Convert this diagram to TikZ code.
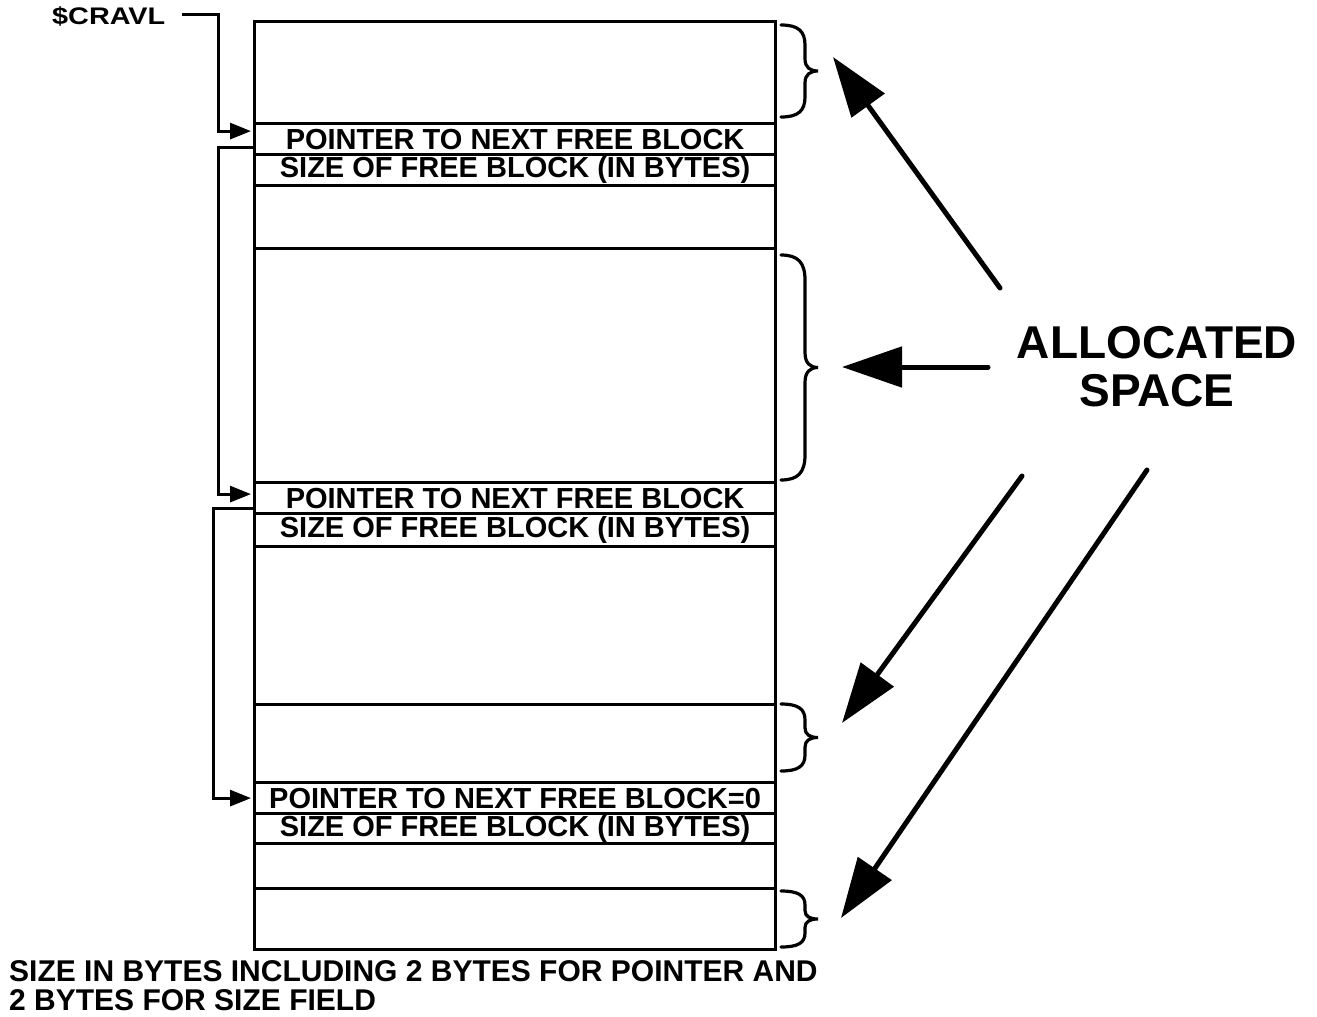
\documentclass[tikz,border=0pt]{standalone}
\usepackage{fontspec}
\setmainfont{Liberation Sans}
\usetikzlibrary{arrows.meta,calc}
\newcommand\membrace[3]{%
 \draw[brc] (781,#1) .. controls (798,#1) and (805,{#1+0.3*#3}) .. (805,{#1+#3})
  -- (805,{(#1+#2)/2-0.6*#3})
  .. controls (805,{(#1+#2)/2-0.18*#3}) and (810,{(#1+#2)/2}) .. (818,{(#1+#2)/2})
  .. controls (810,{(#1+#2)/2}) and (805,{(#1+#2)/2+0.18*#3}) .. (805,{(#1+#2)/2+0.6*#3})
  -- (805,{#2-#3})
  .. controls (805,{#2-0.3*#3}) and (798,#2) .. (781,#2);}
\begin{document}
\begin{tikzpicture}[x=1pt,y=-1pt,
 cell/.style={draw, line width=3.2pt, minimum width=521pt, inner sep=0pt, anchor=north west,
   font=\fontsize{29}{33}\selectfont\bfseries},
 ptr/.style={line width=3pt, -{Triangle[length=21pt,width=16pt]}},
 big/.style={line width=5pt, line cap=round, -{Triangle[length=60pt,width=40pt]}},
 brc/.style={line width=3.2pt, line cap=round},
]
\useasboundingbox (0,0) rectangle (1317,1017);

% memory column
\node[cell, minimum height=102pt] (a1) at (253,20) {};
\node[cell, minimum height=31pt] (p1) at (253,122) {POINTER TO NEXT FREE BLOCK};
\node[cell, minimum height=31pt] (s1) at (253,153) {SIZE OF FREE BLOCK (IN BYTES)};
\node[cell, minimum height=63pt] (f1) at (253,184) {};
\node[cell, minimum height=234pt] (a2) at (253,247) {};
\node[cell, minimum height=31pt] (p2) at (253,481) {POINTER TO NEXT FREE BLOCK};
\node[cell, minimum height=33pt] (s2) at (253,512) {SIZE OF FREE BLOCK (IN BYTES)};
\node[cell, minimum height=158pt] (f2) at (253,545) {};
\node[cell, minimum height=78pt] (a3) at (253,703) {};
\node[cell, minimum height=31pt] (p3) at (253,781) {POINTER TO NEXT FREE BLOCK=0};
\node[cell, minimum height=30pt] (s3) at (253,812) {SIZE OF FREE BLOCK (IN BYTES)};
\node[cell, minimum height=45pt] (f3) at (253,842) {};
\node[cell, minimum height=61pt] (a4) at (253,887) {};

% labels
\node[font=\fontsize{24}{26}\selectfont\bfseries, anchor=west, inner sep=0pt] (cravl) at (52,16) {\scalebox{1.2}[1]{\$CRAVL}};
\node[font=\fontsize{46}{48}\selectfont\bfseries, align=center, inner sep=0pt] (alloc) at (1157,367) {ALLOCATED\\SPACE};
\node[font=\fontsize{30}{29}\selectfont\bfseries, align=left, anchor=north west, inner sep=0pt] (note) at (9,960)
  {SIZE IN BYTES INCLUDING 2 BYTES FOR POINTER AND\\2 BYTES FOR SIZE FIELD};

% free list pointers
\coordinate (c0) at (182,14);
\draw[ptr] (c0) -| ($(p1.west)+(-35,-8)$) -- ($(p1.west)+(-2,-8)$);
\draw[ptr] ($(p1.west)+(0,8)$) -- ($(p1.west)+(-35,8)$) |- ($(p2.west)+(-2,-4)$);
\draw[ptr] ($(p2.west)+(0,10)$) -- ($(p2.west)+(-40,10)$) |- ($(p3.west)+(-2,0)$);

% braces
\membrace{25}{117}{20}
\membrace{255}{480}{25}
\membrace{704}{771}{16}
\membrace{891}{947}{14}

% allocated space arrows
\coordinate (t1) at (1000,288); \coordinate (h1) at (833,57);
\coordinate (t2) at (988,367);  \coordinate (h2) at (842,367);
\coordinate (t3) at (1022,476); \coordinate (h3) at (842,723);
\coordinate (t4) at (1147,470); \coordinate (h4) at (841,918);
\draw[big] (t1) -- (h1);
\draw[big] (t2) -- (h2);
\draw[big] (t3) -- (h3);
\draw[big] (t4) -- (h4);
\end{tikzpicture}
\end{document}
